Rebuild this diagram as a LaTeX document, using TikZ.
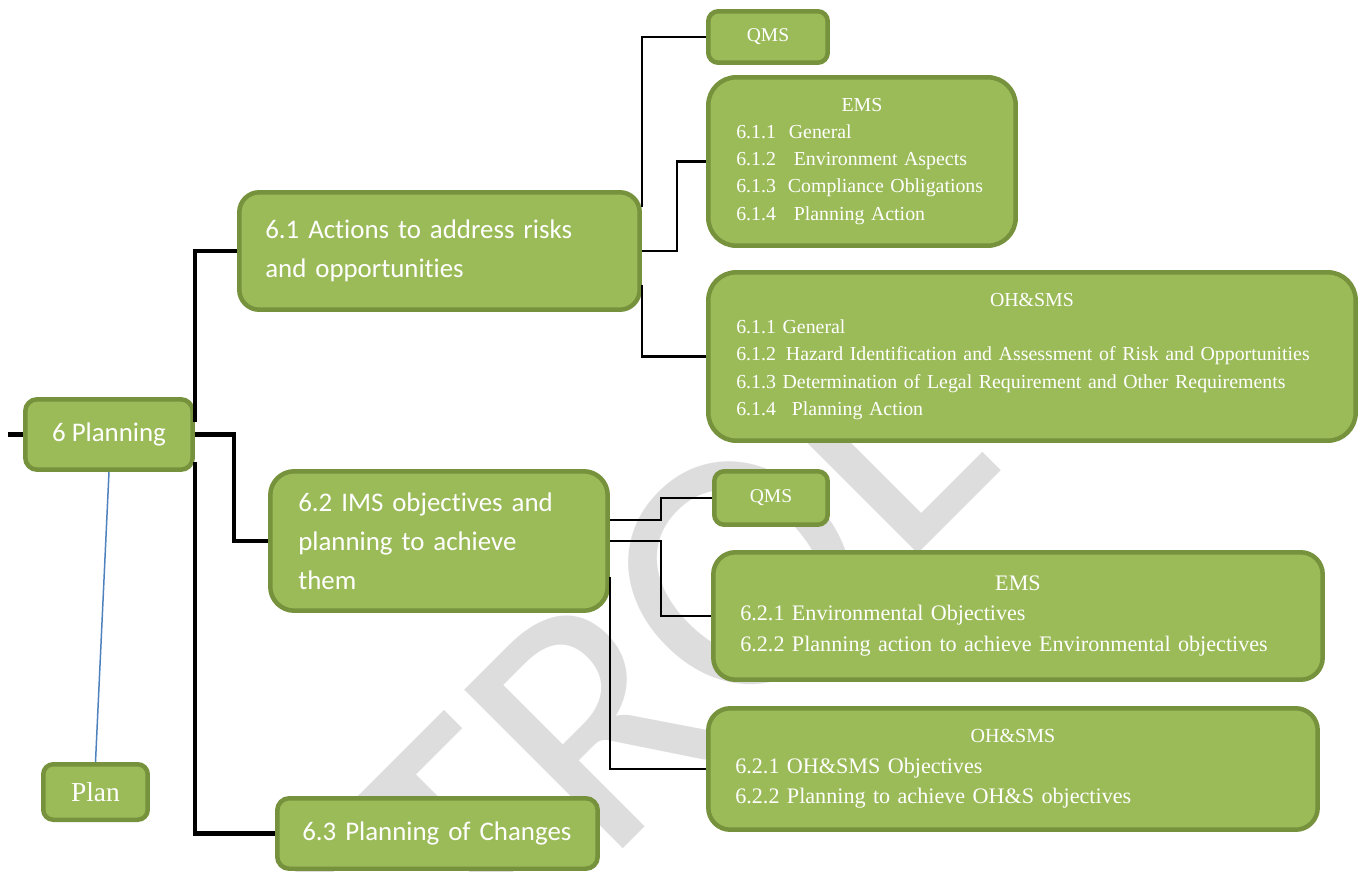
\documentclass[tikz,border=0pt]{standalone}
\usepackage{fontspec}
\setmainfont{Liberation Serif}
\newfontfamily\calib[Ligatures=NoCommon]{Carlito}
\usetikzlibrary{calc}
\definecolor{boxfill}{HTML}{9BBB59}
\definecolor{boxline}{HTML}{76923C}
\definecolor{wmgray}{RGB}{221,221,221}
\definecolor{linkblue}{HTML}{4F81BD}

\begin{document}
\begin{tikzpicture}[x=0.02cm,y=-0.02cm,
  box/.style={draw=boxline, fill=boxfill, line width=0.09cm, text=white, inner sep=0pt},
  topic/.style={box, font=\calib\fontsize{15.3}{22.2}\selectfont, align=left},
  smalltxt/.style={box, font=\fontsize{11.3}{15.4}\selectfont, align=left},
  largetxt/.style={box, font=\fontsize{12.6}{17.4}\selectfont, align=left},
  trunk/.style={draw=black, line width=0.09cm},
  twig/.style={draw=black, line width=0.055cm},
  planlink/.style={draw=linkblue, line width=0.03cm},
]
\useasboundingbox (0,0) rectangle (1367,872);
\clip (0,0) rectangle (1367,872);

% faint watermark across the page
\node[rotate=45, anchor=base west, inner sep=0pt, text=wmgray,
      font=\calib\fontsize{199}{199}\selectfont] (wm) at (32,1440) {CONTROL};

% root and its links
\node[topic, align=center, minimum width=3.35cm, minimum height=1.41cm, rounded corners=0.24cm] (p6) at (109,434.5) {6 Planning};
\node[box, font=\fontsize{15.6}{18}\selectfont, minimum width=2.09cm, minimum height=1.11cm, rounded corners=0.2cm] (plan) at (95.5,792) {Plan};

% first level
\node[topic, minimum width=8.01cm, minimum height=2.35cm, text width=6.97cm, rounded corners=0.4cm] (a61) at (439.5,251)
  {\mbox{6.1 Actions to address risks}\\\mbox{and opportunities}};
\node[topic, minimum width=6.75cm, minimum height=2.79cm, text width=5.63cm, rounded corners=0.48cm] (a62) at (439,541)
  {\mbox{6.2 IMS objectives and}\\\mbox{planning to achieve}\\them};
\node[topic, minimum width=6.41cm, minimum height=1.41cm, text width=5.41cm, rounded corners=0.24cm] (a63) at (437.5,833.5)
  {\mbox{6.3 Planning of Changes}};

% second level under 6.1
\node[box, font=\fontsize{11.1}{13}\selectfont, minimum width=2.39cm, minimum height=1.03cm, rounded corners=0.2cm] (qms1) at (768,37) {QMS};
\node[smalltxt, minimum width=6.15cm, minimum height=3.37cm, text width=5.03cm, rounded corners=0.56cm] (ems1) at (862,161.5)
  {\makebox[\hsize]{EMS}\\
   \mbox{6.1.1\hspace{0.65em}General}\\
   \mbox{6.1.2\hspace{0.9em}Environment Aspects}\\
   \mbox{6.1.3\hspace{0.6em}Compliance Obligations}\\
   \mbox{6.1.4\hspace{0.9em}Planning Action}};
\node[smalltxt, minimum width=12.95cm, minimum height=3.37cm, text width=11.83cm, rounded corners=0.56cm] (oh1) at (1032,356.5)
  {\makebox[\hsize]{OH\&SMS}\\
   \mbox{6.1.1 General}\\
   \mbox{6.1.2\hspace{0.5em}Hazard Identification and Assessment of Risk and Opportunities}\\
   \mbox{6.1.3 Determination of Legal Requirement and Other Requirements}\\
   \mbox{6.1.4\hspace{0.8em}Planning Action}};

% second level under 6.2
\node[box, font=\fontsize{11.1}{13}\selectfont, minimum width=2.27cm, minimum height=1.07cm, rounded corners=0.2cm] (qms2) at (771,498) {QMS};
\node[largetxt, minimum width=12.19cm, minimum height=2.55cm, text width=11.11cm, rounded corners=0.44cm] (ems2) at (1018,616)
  {\makebox[\hsize]{EMS}\\
   \mbox{6.2.1 Environmental Objectives}\\
   \mbox{6.2.2 Planning action to achieve Environmental objectives}};
\node[largetxt, minimum width=12.19cm, minimum height=2.43cm, text width=11.11cm, rounded corners=0.44cm] (oh2) at (1013,769)
  {\makebox[\hsize]{\fontsize{11.4}{15}\selectfont OH\&SMS}\\
   \mbox{6.2.1 OH\&SMS Objectives}\\
   \mbox{6.2.2 Planning to achieve OH\&S objectives}};

% connectors
\coordinate (stub) at (8,434.5);
\draw[trunk] (stub) -- (p6.west);
\draw[planlink] (p6.south) -- (plan.north);
\draw[trunk] ([yshift=0.26cm]p6.east) |- (a61.west);
\draw[trunk] (p6.east) -- ++(39,0) |- (a62.west);
\draw[trunk] ([yshift=-0.56cm]p6.east) |- (a63.west);

\draw[twig] ([yshift=0.88cm]a61.east) |- (qms1.west);
\draw[twig] (a61.east) -- ++(35,0) |- (ems1.west);
\draw[twig] ([yshift=-0.68cm]a61.east) |- (oh1.west);

\draw[twig] ([yshift=0.42cm]a62.east) -- ++(51,0) |- (qms2.west);
\draw[twig] (a62.east) -- ++(51,0) |- (ems2.west);
\draw[twig] ([yshift=-0.72cm]a62.east) |- (oh2.west);
\end{tikzpicture}
\end{document}
